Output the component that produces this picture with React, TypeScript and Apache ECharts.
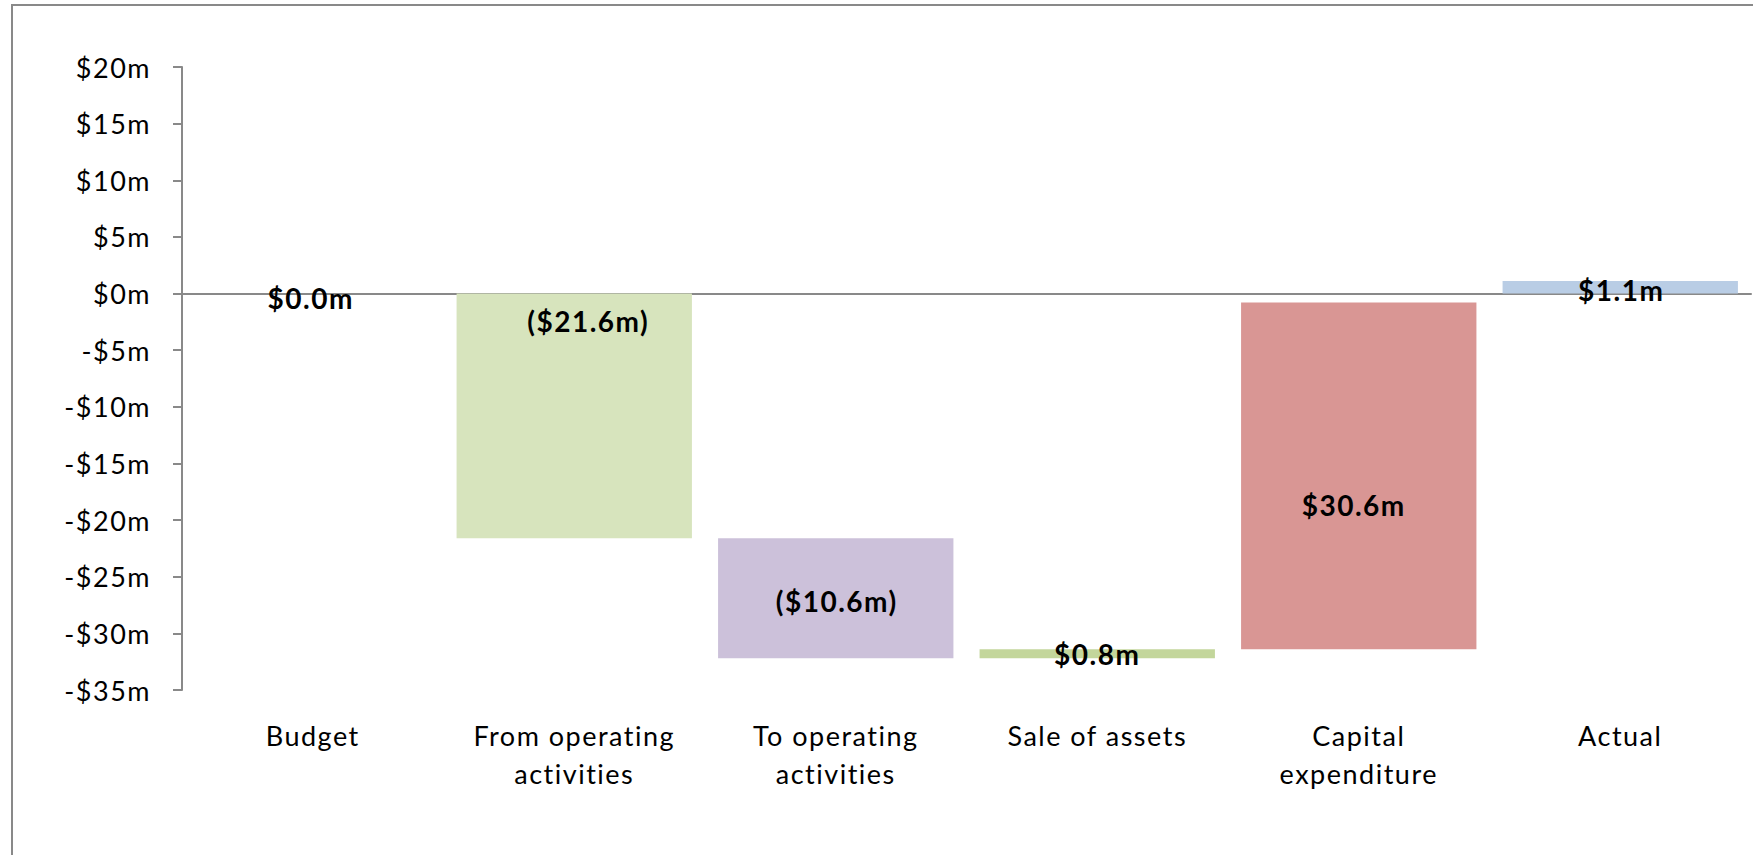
import React, { useEffect, useRef } from "react";
import * as echarts from "echarts";

const categories = [
  "Budget",
  "From operating\nactivities",
  "To operating\nactivities",
  "Sale of assets",
  "Capital\nexpenditure",
  "Actual",
];
// change (or total) for each step, $m
const values = [0, -21.6, -10.6, 0.8, 30.6, 1.1];
// totals start from zero, the others continue the running total
const isTotal = [true, false, false, false, false, true];
const barColors = ["#D7E4BD", "#D7E4BD", "#CCC1DA", "#C3D69B", "#D99694", "#B9CDE5"];
const yTicks = { min: -35, max: 20, interval: 5 };

// label nudges (px) to match the reference placement
const labelDx = [-2, 14, 1, 0, -5, 1];
const labelDy = [4, -95, 3, 0, 29, 3];

const fmtLabel = (v: number) =>
  v < 0 ? `($${Math.abs(v).toFixed(1)}m)` : `$${v.toFixed(1)}m`;

function buildRows() {
  let running = 0;
  return values.map((v, i) => {
    let start: number;
    let end: number;
    if (isTotal[i]) {
      start = 0;
      end = v;
      running = v;
    } else {
      start = running;
      end = running + v;
      running = end;
    }
    return [i, start, end];
  });
}

const GREY = "#898989";
const FONT = "Lato";

export default function App() {
  const ref = useRef<HTMLDivElement>(null);
  useEffect(() => {
    document.body.style.margin = "0";
    const css = document.createElement("style");
    css.textContent =
      'svg text { letter-spacing: 1.5px; font-variant-ligatures: none; font-feature-settings: "liga" 0, "clig" 0; }';
    document.head.appendChild(css);
    if (!ref.current) return;
    const chart = echarts.init(ref.current, undefined, { renderer: "svg" });
    const rows = buildRows();
    chart.setOption({
      animation: false,
      backgroundColor: "#ffffff",
      graphic: [
        {
          type: "polyline",
          silent: true,
          z: -1,
          shape: {
            points: [
              [12, 900],
              [12, 5],
              [1800, 5],
            ],
          },
          style: { fill: "none", stroke: GREY, lineWidth: 2 },
        },
      ],
      grid: { left: 182, top: 67, right: 2, bottom: 165, containLabel: false },
      xAxis: [
        {
          type: "category",
          data: categories,
          position: "bottom",
          axisLine: { show: false, onZero: false },
          axisTick: { show: false },
          axisLabel: {
            color: "#000",
            fontFamily: FONT,
            fontSize: 27,
            lineHeight: 38,
            margin: 26,
            interval: 0,
          },
        },
        {
          type: "category",
          data: categories,
          position: "bottom",
          axisLine: { show: true, onZero: true, lineStyle: { color: GREY, width: 2 } },
          axisTick: { show: false },
          axisLabel: { show: false },
        },
      ],
      yAxis: {
        type: "value",
        min: yTicks.min,
        max: yTicks.max,
        interval: yTicks.interval,
        splitLine: { show: false },
        axisLine: { show: true, lineStyle: { color: GREY, width: 2 } },
        axisTick: { show: true, length: 9, lineStyle: { color: GREY, width: 2 } },
        axisLabel: {
          color: "#000",
          fontFamily: FONT,
          fontSize: 27,
          margin: 31,
          formatter: (v: number) => (v < 0 ? `-$${-v}m` : `$${v}m`),
        },
      },
      series: [
        {
          type: "custom",
          xAxisIndex: 0,
          encode: { x: 0, y: [1, 2] },
          data: rows,
          renderItem: (params: any, api: any) => {
            const i = api.value(0);
            const s = api.value(1);
            const e = api.value(2);
            const a = api.coord([i, s]);
            const b = api.coord([i, e]);
            const w = api.size([1, 0])[0] * 0.9;
            const top = Math.min(a[1], b[1]);
            const h = Math.abs(a[1] - b[1]);
            const cx = a[0];
            const cy = (a[1] + b[1]) / 2;
            return {
              type: "group",
              children: [
                {
                  type: "rect",
                  shape: { x: cx - w / 2, y: top, width: w, height: h },
                  style: { fill: barColors[i] },
                },
                {
                  type: "text",
                  z2: 10,
                  x: cx + labelDx[i],
                  y: cy + labelDy[i],
                  style: {
                    text: fmtLabel(values[i]),
                    fill: "#000",
                    font: `bold 28px ${FONT}`,
                    align: "center",
                    verticalAlign: "middle",
                  },
                },
              ],
            };
          },
        },
      ],
    });
    return () => {
      chart.dispose();
      css.remove();
    };
  }, []);
  return <div ref={ref} style={{ width: "1753px", height: "855px" }} />;
}
